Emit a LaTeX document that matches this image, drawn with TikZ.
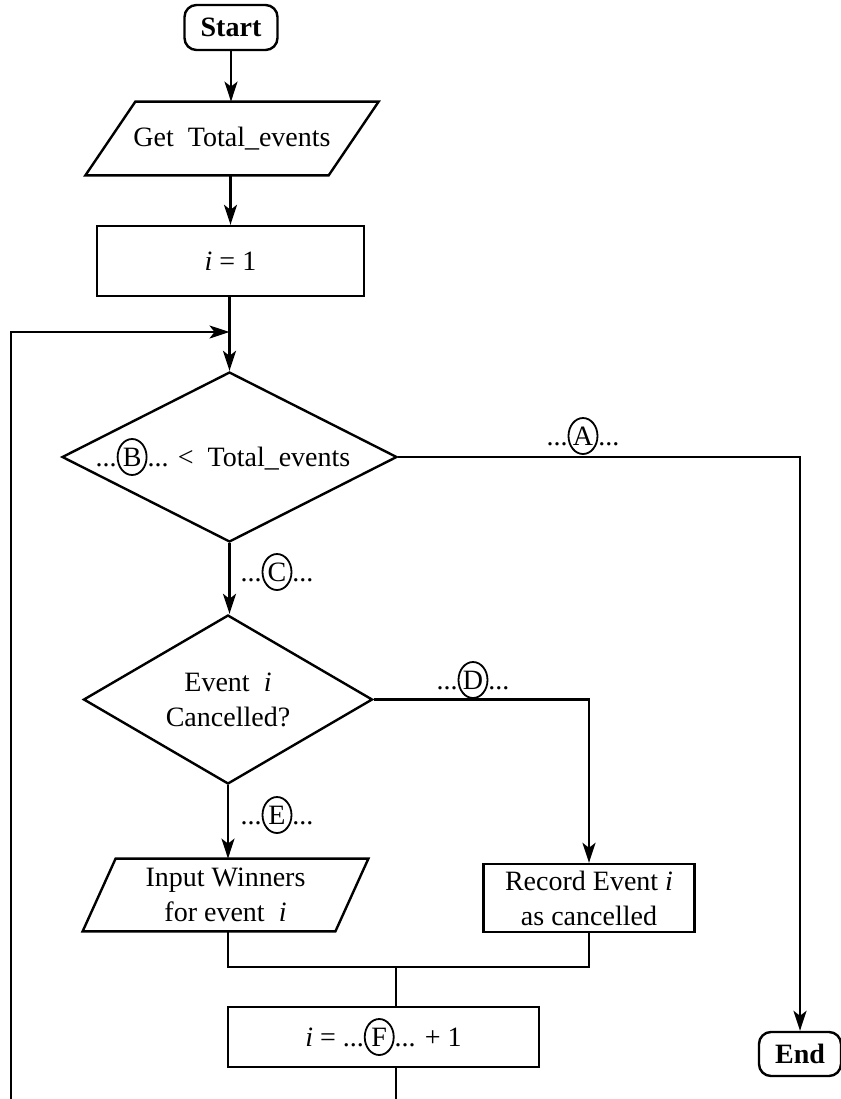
\documentclass[tikz,border=0pt]{standalone}
\usepackage{fontspec}
\setmainfont{Liberation Serif}
\usetikzlibrary{shapes.geometric,arrows.meta,calc}
\newcommand{\cletter}[1]{\tikz[baseline=(cl.base)]\node[draw,ellipse,line width=0.9pt,inner sep=0pt,minimum width=14.5pt,minimum height=18pt](cl){#1};}
\begin{document}
\begin{tikzpicture}[x=0.5pt,y=-0.5pt, font=\fontsize{14}{17.5}\selectfont,
 box/.style={draw, line width=1.2pt, inner sep=0pt, align=center},
 term/.style={box, rounded corners=6pt, font=\fontsize{14}{17.5}\selectfont\bfseries},
 io/.style={inner sep=0pt, align=center},
 dia/.style={draw, diamond, line width=1.2pt, inner sep=0pt},
 conn/.style={line width=1.1pt},
 arr/.style={conn, -{Stealth[length=10pt,width=6.5pt,inset=2.5pt]}},
 lbl/.style={inner sep=0pt},
 para/.style={line width=1.2pt}]
\useasboundingbox (0,0) rectangle (841,1099);

% nodes
\node[term, minimum width=46.5pt, minimum height=22.5pt] (start) at (231,27.5) {Start};
\node[io, minimum width=121.25pt, minimum height=36.5pt] (get) at (232,138.5) {Get\ \ Total\_events};
\draw[para] ($(get.north west)+(25,0)$) -- ($(get.north east)+(25,0)$) -- ($(get.south east)+(-25,0)$) -- ($(get.south west)+(-25,0)$) -- cycle;
\node[box, minimum width=133.5pt, minimum height=35pt] (i1) at (230.5,261) {\textit{i} = 1};
\node[dia, minimum width=167.5pt, minimum height=85pt] (d1) at (229.5,457) {};
\node[lbl] (t1) at (223,457) {...\cletter{B}... <\ \ Total\_events};
\node[dia, minimum width=144.5pt, minimum height=84.5pt] (d2) at (228,699.5) {};
\node[lbl, align=center] (t2) at (d2) {Event\ \ \textit{i}\\Cancelled?};
\node[io, minimum width=126pt, minimum height=36pt] (inp) at (225.5,895) {Input Winners\\for event\ \ \textit{i}};
\draw[para] ($(inp.north west)+(16.5,0)$) -- ($(inp.north east)+(16.5,0)$) -- ($(inp.south east)+(-16.5,0)$) -- ($(inp.south west)+(-16.5,0)$) -- cycle;
\node[box, minimum width=105.5pt, minimum height=34pt] (rec) at (589,898) {Record Event \textit{i}\\as cancelled};
\node[box, minimum width=155.5pt, minimum height=30pt] (fb) at (383.5,1037) {\textit{i} = ...\cletter{F}... + 1};
\node[term, minimum width=41pt, minimum height=22pt] (end) at (800,1054) {End};

% labels
\node[lbl] (la) at (583,436) {...\cletter{A}...};
\node[lbl] (lc) at (277,572) {...\cletter{C}...};
\node[lbl] (ld) at (473,680) {...\cletter{D}...};
\node[lbl] (le) at (277,815) {...\cletter{E}...};

% coordinates
\coordinate (lb) at (11,1099);
\coordinate (lt) at (11,332);
\coordinate (j1) at (228,967);
\coordinate (jm) at (396,967);
\coordinate (bm) at (396,1099);

% connectors
\draw[arr] (start.south) -- (start.south |- get.north);
\draw[arr] (get.south -| i1.north) -- (i1.north);
\draw[arr] (i1.south -| d1.north) -- (d1.north);
\draw[arr] (lb) -- (lt) -- (lt -| d1.north);
\draw[arr] (d1.east) -| (end.north);
\draw[arr] (d1.south) -- (d1.south |- d2.north);
\draw[arr] (d2.east) -| (rec.north);
\draw[arr] (d2.south) -- (d2.south |- inp.north);
\draw[conn] (d2.south |- inp.south) -- (d2.south |- j1) -- (j1 -| rec.south) -- (rec.south);
\draw[conn] (jm) -- (jm |- fb.north);
\draw[conn] (fb.south -| jm) -- (bm);
\end{tikzpicture}
\end{document}
